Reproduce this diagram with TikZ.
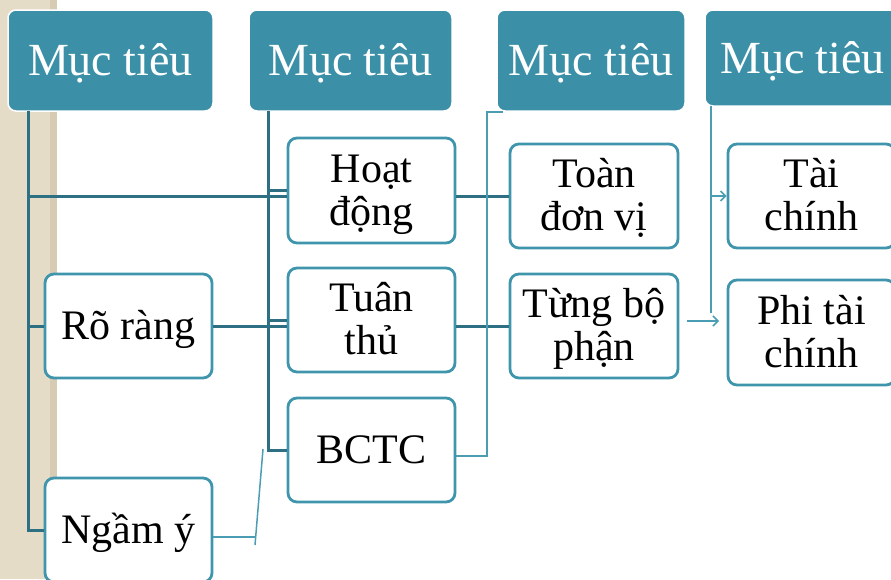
\documentclass[tikz,border=0pt]{standalone}
\usepackage{fontspec}
\setmainfont{Liberation Serif}
\usetikzlibrary{arrows.meta}
\definecolor{hdr}{HTML}{3B90A8}
\definecolor{bord}{HTML}{3F95AC}
\definecolor{dline}{HTML}{2D7083}
\definecolor{tline}{HTML}{4A9DB3}
\definecolor{beige}{HTML}{E5DCC8}
\definecolor{beigedark}{HTML}{D6CCB5}
\newcommand\mytopst{\rule{0pt}{36pt}}
\newcommand\mybotst{\rule[-10pt]{0pt}{10pt}}
\tikzset{
  hdrbox/.style={rectangle, rounded corners=8pt, fill=hdr, draw=white, line width=1.5pt,
    text=white, font=\fontsize{46}{50}\selectfont, inner sep=0pt,
    text height=30pt, text depth=0pt},
  itembox/.style={rectangle, rounded corners=9pt, fill=white, draw=bord, line width=2.8pt,
    text=black, font=\fontsize{42}{43}\selectfont, align=center, inner sep=0pt,
    minimum width=167pt, minimum height=104pt},
  thickline/.style={draw=dline, line width=3pt},
  thinline/.style={draw=tline, line width=1.5pt},
  arr/.style={thinline, -{Straight Barb[length=5pt,width=10pt]}}
}
\begin{document}
\begin{tikzpicture}[x=1pt,y=-1pt]
\useasboundingbox (0,0) rectangle (891,579);
\clip (0,0) rectangle (891,579);
\fill[beige] (0,0) rectangle (57,579);
\fill[beigedark] (50,0) rectangle (57,579);

% headers
\node[hdrbox, minimum width=205pt, minimum height=101pt] (h1) at (110.5,60.5) {Mục tiêu};
\node[hdrbox, minimum width=203pt, minimum height=101pt] (h2) at (350.5,60.5) {Mục tiêu};
\node[hdrbox, minimum width=188pt, minimum height=101pt] (h3) at (591,60.5) {Mục tiêu};
\node[hdrbox, minimum width=195pt, minimum height=96pt] (h4) at (802.5,58) {Mục tiêu};

% boxes
\node[itembox] (ro) at (128.5,326) {\mytopst Rõ ràng\mybotst};
\node[itembox] (ngam) at (128.5,530) {\mytopst Ngầm ý\mybotst};
\node[itembox, minimum height=105pt] (hoat) at (371.5,190.5) {\mytopst Hoạt\\động\mybotst};
\node[itembox] (tuan) at (371.5,320) {\mytopst Tuân\\thủ\mybotst};
\node[itembox] (bctc) at (371.5,450) {\mytopst BCTC\mybotst};
\node[itembox, minimum width=168pt] (toan) at (594,196) {\mytopst Toàn\\đơn vị\mybotst};
\node[itembox, minimum width=168pt] (tung) at (594,326) {\mytopst Từng bộ\\phận\mybotst};
\node[itembox] (tai) at (811.5,196) {\mytopst Tài\\chính\mybotst};
\node[itembox, minimum height=105pt] (phi) at (811.5,332.5) {\mytopst Phi tài\\chính\mybotst};

% tree of header 1
\coordinate (t1) at (28,111);
\draw[thickline] (t1) |- (ngam.west);
\draw[thickline] (t1 |- ro.west) -- (ro.west);
\draw[thickline] (t1 |- toan.west) -- (hoat.west |- toan.west);
\draw[thickline] (hoat.east |- toan.west) -- (toan.west);
\draw[thickline] (ro.east) -- (tuan.west |- ro.east);
\draw[thickline] (tuan.east |- ro.east) -- (tung.west);

% tree of header 2
\coordinate (t2) at (268,111);
\draw[thickline] (t2) |- (bctc.west);
\draw[thickline] (t2 |- hoat.west) -- (hoat.west);
\draw[thickline] (t2 |- tuan.west) -- (tuan.west);

% Ngam y connector
\coordinate (n1) at (212,537);
\coordinate (n2) at (255,537);
\coordinate (n3) at (255,545);
\coordinate (n4) at (263,449);
\draw[thinline] (ngam.east |- n1) -- (n2);
\draw[thinline] (n3) -- (n4);

% BCTC to header 3
\coordinate (c1) at (487,456);
\coordinate (c2) at (503,112);
\draw[thinline] (bctc.east |- c1) -- (c1) |- (c2);

% header 4
\coordinate (t4) at (711,106);
\coordinate (t4b) at (711,313);
\draw[thinline] (t4) -- (t4b);
\draw[arr] (t4 |- tai.west) -- (tai.west);
\coordinate (p1) at (687,321);
\coordinate (p2) at (719,321);
\draw[arr] (p1) -- (p2);
\end{tikzpicture}
\end{document}
